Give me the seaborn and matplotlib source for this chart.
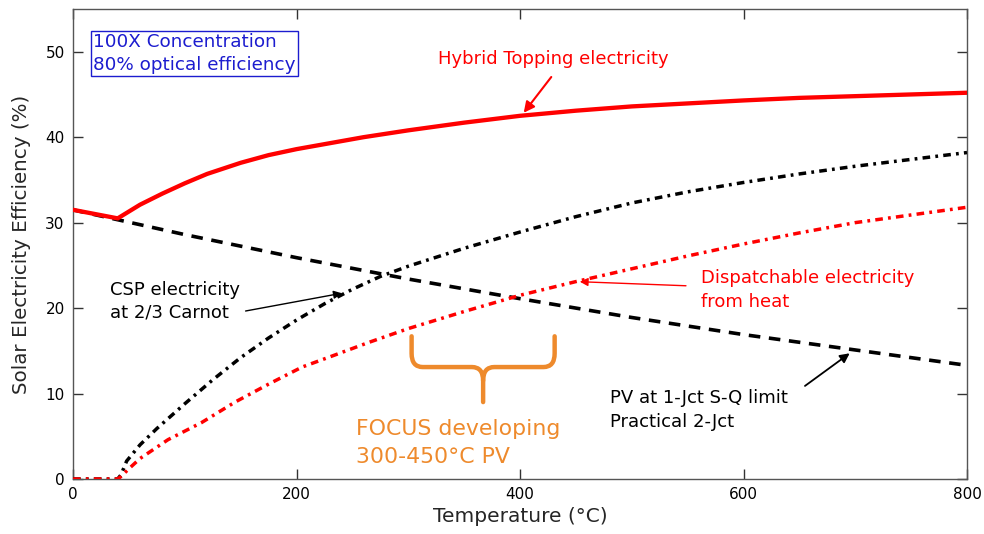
import numpy as np
import pandas as pd
import matplotlib
matplotlib.use("Agg")
import matplotlib.pyplot as plt
from matplotlib.path import Path
from matplotlib.patches import PathPatch
import seaborn as sns

# ---- data ----
hyb_T = [0, 40, 50, 60, 80, 100, 120, 150, 175, 200, 230, 260, 300, 350, 400,
         450, 500, 550, 600, 650, 700, 750, 800]
hyb_v = [31.5, 30.5, 31.3, 32.1, 33.4, 34.6, 35.7, 37.0, 37.9, 38.6, 39.3, 40.0,
         40.8, 41.7, 42.5, 43.1, 43.6, 43.95, 44.3, 44.6, 44.8, 45.0, 45.2]

pv_T = [0, 100, 200, 300, 400, 500, 600, 700, 800]
pv_v = [31.5, 28.6, 25.9, 23.4, 21.1, 18.9, 16.9, 15.1, 13.3]

csp_T = [0, 40, 43, 48, 60, 75, 100, 125, 150, 175, 200, 225, 250, 275, 300, 350,
         400, 450, 500, 550, 600, 650, 700, 750, 800]
csp_v = [0, 0, 0.5, 2.1, 4.0, 5.9, 8.8, 11.6, 14.2, 16.5, 18.6, 20.5, 22.2, 23.7,
         24.9, 27.0, 28.9, 30.7, 32.3, 33.6, 34.7, 35.7, 36.6, 37.4, 38.2]

dis_T = [0, 40, 43, 50, 60, 85, 115, 145, 175, 205, 230, 265, 300, 350, 400, 450,
         500, 550, 600, 650, 700, 750, 800]
dis_v = [0, 0, 0.3, 1.2, 2.4, 4.6, 6.6, 9.0, 11.1, 13.1, 14.3, 16.0, 17.6, 19.6,
         21.5, 23.1, 24.6, 26.1, 27.5, 28.8, 30.0, 30.9, 31.8]

x_ticks = [0, 200, 400, 600, 800]
y_ticks = [0, 10, 20, 30, 40, 50]
focus_range = [303, 431]

RED = "#ff0000"
ORANGE = "#ee8a2c"
BLUE = "#1c1ccf"

sns.set_theme(style="ticks")
plt.rcParams["font.family"] = ["DejaVu Sans"]

fig = plt.figure(figsize=(9.84, 5.34), dpi=100)
ax = fig.add_axes([73 / 984, 55 / 534, (967 - 73) / 984, (479 - 9) / 534])

df_hyb = pd.DataFrame({"T": hyb_T, "v": hyb_v})
df_pv = pd.DataFrame({"T": pv_T, "v": pv_v})
df_csp = pd.DataFrame({"T": csp_T, "v": csp_v})
df_dis = pd.DataFrame({"T": dis_T, "v": dis_v})

sns.lineplot(data=df_pv, x="T", y="v", ax=ax, color="black", lw=2.6,
             linestyle=(0, (3.2, 2.4)), zorder=3)
sns.lineplot(data=df_csp, x="T", y="v", ax=ax, color="black", lw=2.5,
             linestyle=(0, (2.2, 1.5, 0.8, 1.5)), zorder=3)
sns.lineplot(data=df_dis, x="T", y="v", ax=ax, color=RED, lw=2.5,
             linestyle=(0, (2.2, 1.5, 0.8, 1.5)), zorder=4)
sns.lineplot(data=df_hyb, x="T", y="v", ax=ax, color=RED, lw=3.1, zorder=5)

ax.set_xlim(0, 800)
ax.set_ylim(0, 55)
ax.set_xticks(x_ticks)
ax.set_yticks(y_ticks)
ax.tick_params(direction="in", length=7, width=1, colors="#333333",
               top=True, right=True, labelsize=11, labelcolor="black", pad=6)
for s in ax.spines.values():
    s.set_color("#555555")
    s.set_linewidth(1.0)
ax.set_xlabel("Temperature (°C)", fontsize=14.5, labelpad=3)
ax.set_ylabel("Solar Electricity Efficiency (%)", fontsize=14.3, labelpad=10)

# info box
ax.text(18, 49.8, "100X Concentration\n80% optical efficiency", color=BLUE,
        fontsize=13.2, ha="left", va="center", linespacing=1.3,
        bbox=dict(boxstyle="square,pad=0.12", fc="white", ec=BLUE, lw=1))

# annotations
ax.text(430, 49.1, "Hybrid Topping electricity", color=RED, fontsize=13,
        ha="center", va="center")
ax.annotate("", xy=(401.8, 42.6), xytext=(429.5, 47.3),
            arrowprops=dict(arrowstyle="-|>", color=RED, lw=1.5, mutation_scale=16))

ax.text(33, 20.8, "CSP electricity\nat 2/3 Carnot", color="black", fontsize=13,
        ha="left", va="center", linespacing=1.3)
ax.annotate("", xy=(243, 21.8), xytext=(152, 19.6),
            arrowprops=dict(arrowstyle="-|>", color="black", lw=1.0, mutation_scale=12))

ax.text(562, 22.1, "Dispatchable electricity\nfrom heat", color=RED, fontsize=13,
        ha="left", va="center", linespacing=1.4)
ax.annotate("", xy=(451, 23.1), xytext=(551, 22.6),
            arrowprops=dict(arrowstyle="-|>", color=RED, lw=1.0, mutation_scale=12))

ax.text(480.5, 8.1, "PV at 1-Jct S-Q limit\nPractical 2-Jct", color="black", fontsize=13,
        ha="left", va="center", linespacing=1.4)
ax.annotate("", xy=(697, 14.9), xytext=(653, 10.7),
            arrowprops=dict(arrowstyle="-|>", color="black", lw=1.3, mutation_scale=14))

ax.text(253, 4.2, "FOCUS developing\n300-450°C PV", color=ORANGE, fontsize=15.8,
        ha="left", va="center", linespacing=1.5)

# orange brace
xl, xr = focus_range
xm = (xl + xr) / 2
ytop, ymid, ytip = 16.7, 13.1, 9.0
r = 10
verts = [(xl, ytop), (xl, ymid + 1.6), (xl, ymid), (xl + r, ymid),
         (xm - r, ymid), (xm, ymid), (xm, ymid - 1.6), (xm, ytip)]
codes = [Path.MOVETO, Path.LINETO, Path.CURVE3, Path.CURVE3,
         Path.LINETO, Path.CURVE3, Path.CURVE3, Path.LINETO]
ax.add_patch(PathPatch(Path(verts, codes), fc="none", ec=ORANGE, lw=3.2,
                       capstyle="round", zorder=6))
verts2 = [(xr, ytop), (xr, ymid + 1.6), (xr, ymid), (xr - r, ymid),
          (xm + r, ymid), (xm, ymid), (xm, ymid - 1.6)]
codes2 = [Path.MOVETO, Path.LINETO, Path.CURVE3, Path.CURVE3,
          Path.LINETO, Path.CURVE3, Path.CURVE3]
ax.add_patch(PathPatch(Path(verts2, codes2), fc="none", ec=ORANGE, lw=3.2,
                       capstyle="round", zorder=6))

fig.savefig("out.png", dpi=100)
